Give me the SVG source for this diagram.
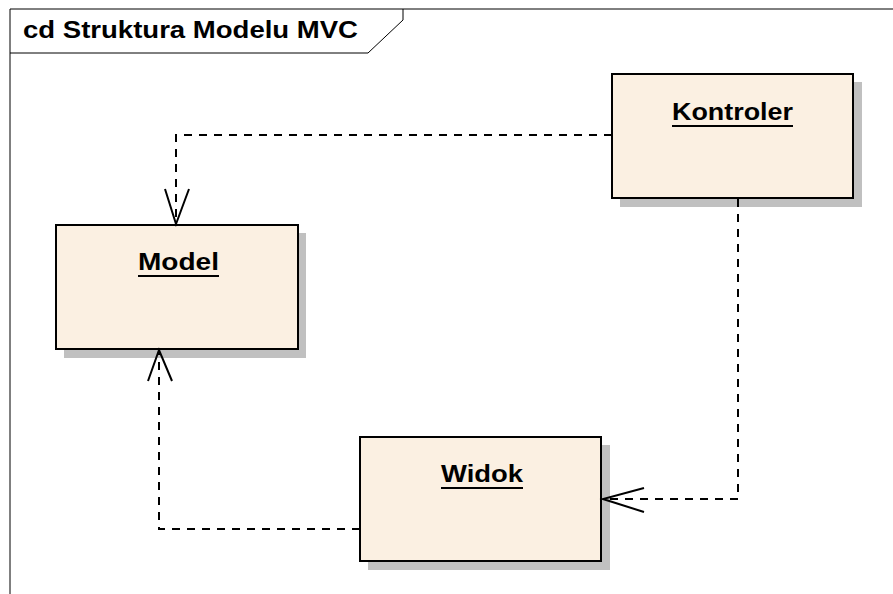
<svg xmlns="http://www.w3.org/2000/svg" width="893" height="594" viewBox="0 0 893 594">
<style>
.frame{fill:none;stroke:#000;stroke-width:1}
.shadow{fill:#c0c0c0}
.box{fill:#fbf0e2;stroke:#000;stroke-width:2}
.lbl{font-family:"Liberation Sans",Arial,sans-serif;font-weight:bold;font-size:24px;fill:#000}
.ul{stroke:#000;stroke-width:2}
.dep{fill:none;stroke:#000;stroke-width:2;stroke-dasharray:8,7}
.head{fill:none;stroke:#000;stroke-width:2}
</style>
<rect width="893" height="594" fill="#fff"/>
<g id="frame">
<path class="frame" d="M10,594 V9 H893"/>
<path class="frame" d="M10,53 H368 L403,20 V9"/>
<text class="lbl" x="23" y="38" textLength="335" lengthAdjust="spacingAndGlyphs">cd Struktura Modelu MVC</text>
</g>
<g id="kontroler">
<rect class="shadow" x="620" y="82" width="242" height="125"/>
<rect class="box" x="612" y="74" width="241" height="124"/>
<text class="lbl" x="672" y="120" textLength="121" lengthAdjust="spacingAndGlyphs">Kontroler</text>
<line class="ul" x1="672" y1="126" x2="793" y2="126"/>
</g>
<g id="model">
<rect class="shadow" x="64" y="233" width="242" height="125"/>
<rect class="box" x="56" y="225" width="242" height="124"/>
<text class="lbl" x="138" y="270" textLength="81" lengthAdjust="spacingAndGlyphs">Model</text>
<line class="ul" x1="138" y1="276" x2="219" y2="276"/>
</g>
<g id="widok">
<rect class="shadow" x="368" y="445" width="242" height="125"/>
<rect class="box" x="360" y="437" width="241" height="124"/>
<text class="lbl" x="441" y="482" textLength="82" lengthAdjust="spacingAndGlyphs">Widok</text>
<line class="ul" x1="441" y1="488" x2="523" y2="488"/>
</g>
<g id="connectors">
<path class="dep" d="M612,135 H176 V223"/>
<path class="head" d="M165,189 L176,224 L189,189"/>
<path class="dep" d="M738,199 V499 H603"/>
<path class="head" d="M644,488 L603,499 L644,512"/>
<path class="dep" d="M360,529 H159 V351"/>
<path class="head" d="M148,381 L159,350 L172,381"/>
</g>
</svg>
